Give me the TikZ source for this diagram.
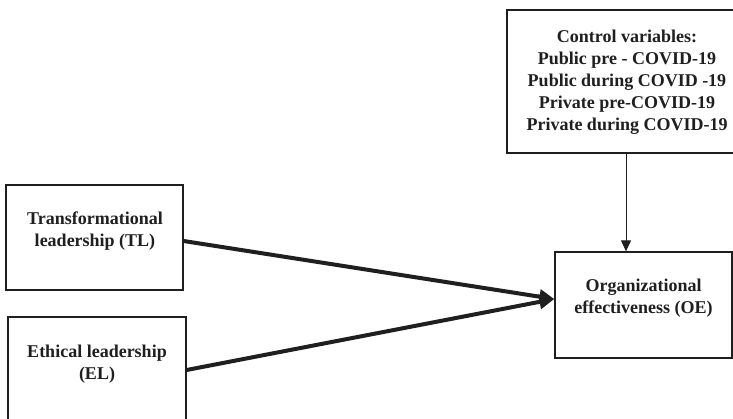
\documentclass[tikz,border=0pt]{standalone}
\usepackage{fontspec}
\setmainfont{Liberation Serif}
\usetikzlibrary{arrows.meta,calc}
\begin{document}
\begin{tikzpicture}[x=1pt,y=1pt,
  box/.style={draw=black!88,line width=1.3pt,inner sep=0pt},
  txt/.style={align=center,font=\fontsize{18}{22}\selectfont\bfseries,text=black!88,inner sep=0pt},
  thick arrow/.style={draw=black!88,line width=4pt,-{Triangle[length=15pt,width=14pt]}},
  thin arrow/.style={draw=black!88,line width=1pt,-{Triangle[length=11pt,width=10pt]}}]
\clip (0,0) rectangle (733,-419);
\fill[white] (0,0) rectangle (733,-419);

% boxes
\node[box,minimum width=240,minimum height=143] (ctrl) at (627,-81.5) {};
\node[box,minimum width=177,minimum height=105] (tl) at (94.5,-237.5) {};
\node[box,minimum width=178,minimum height=107] (el) at (97,-370.5) {};
\node[box,minimum width=177,minimum height=106] (oe) at (643.5,-305) {};

% texts
\node[txt] (ctrltxt) at (627,-82) {Control variables:\\Public pre - COVID-19\\Public during COVID -19\\Private pre-COVID-19\\Private during COVID-19};
\node[txt] (tltxt) at (95,-231) {Transformational\\leadership (TL)};
\node[txt] (eltxt) at (97,-364) {Ethical leadership\\(EL)};
\node[txt] (oetxt) at (643.5,-298) {Organizational\\effectiveness (OE)};

% connectors
\coordinate (tip) at ($(oe.west)+(0,6)$);
\draw[thick arrow] ($(tl.east)+(0,-3.5)$) -- (tip);
\draw[thick arrow] ($(el.east)+(0,0.5)$) -- (tip);
\draw[thin arrow] ($(ctrl.south)+(-1,0)$) -- ($(ctrl.south |- oe.north)+(-1,0)$);
\end{tikzpicture}
\end{document}
